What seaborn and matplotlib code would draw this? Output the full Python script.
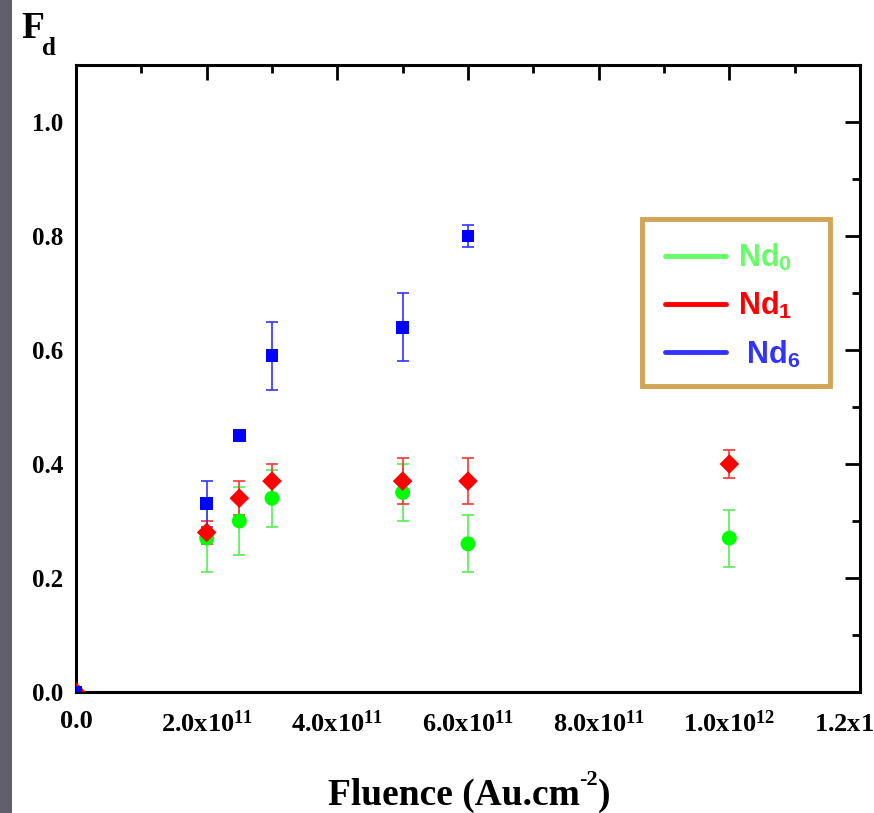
import numpy as np
import pandas as pd
import matplotlib
matplotlib.use("Agg")
import matplotlib.pyplot as plt
import matplotlib.patches as mpatches
from matplotlib.lines import Line2D
import seaborn as sns

# ---- data ----
fluence_nd0 = [0.0, 2.0e11, 2.5e11, 3.0e11, 5.0e11, 6.0e11, 1.0e12]
fd_nd0 = [0.0, 0.27, 0.30, 0.34, 0.35, 0.26, 0.27]
err_nd0 = [0.0, 0.06, 0.06, 0.05, 0.05, 0.05, 0.05]

fluence_nd1 = [0.0, 2.0e11, 2.5e11, 3.0e11, 5.0e11, 6.0e11, 1.0e12]
fd_nd1 = [0.0, 0.28, 0.34, 0.37, 0.37, 0.37, 0.40]
err_nd1 = [0.0, 0.02, 0.03, 0.03, 0.04, 0.04, 0.025]

fluence_nd6 = [0.0, 2.0e11, 2.5e11, 3.0e11, 5.0e11, 6.0e11]
fd_nd6 = [0.0, 0.33, 0.45, 0.59, 0.64, 0.80]
err_nd6 = [0.0, 0.04, 0.005, 0.06, 0.06, 0.02]

series_names = ["Nd0", "Nd1", "Nd6"]
legend_labels = [r"Nd$_\mathregular{0}$", r"Nd$_\mathregular{1}$", r" Nd$_\mathregular{6}$"]
x_ticks = [0.0, 2e11, 4e11, 6e11, 8e11, 1e12, 1.2e12]
x_tick_labels = ["0.0", r"2.0x10$^{11}$", r"4.0x10$^{11}$", r"6.0x10$^{11}$",
                 r"8.0x10$^{11}$", r"1.0x10$^{12}$", r"1.2x10$^{12}$"]
y_ticks = [0.0, 0.2, 0.4, 0.6, 0.8, 1.0]
y_tick_labels = ["0.0", "0.2", "0.4", "0.6", "0.8", "1.0"]
xlabel_parts = ["Fluence (Au.cm", "-2", ")"]

df = pd.concat([
    pd.DataFrame({"fluence": fluence_nd0, "fd": fd_nd0, "err": err_nd0, "series": "Nd0"}),
    pd.DataFrame({"fluence": fluence_nd1, "fd": fd_nd1, "err": err_nd1, "series": "Nd1"}),
    pd.DataFrame({"fluence": fluence_nd6, "fd": fd_nd6, "err": err_nd6, "series": "Nd6"}),
], ignore_index=True)

marker_colors = {"Nd0": "#00ff00", "Nd1": "#ff0000", "Nd6": "#0000ff"}
bar_colors = {"Nd0": "#55ee55", "Nd1": "#ff3333", "Nd6": "#3333ff"}
legend_colors = {"Nd0": "#66ff66", "Nd1": "#ff0000", "Nd6": "#3333ff"}
markers = {"Nd0": "o", "Nd1": "D", "Nd6": "s"}
sizes = {"Nd0": 115, "Nd1": 100, "Nd6": 85}

sns.set_style("white")
plt.rcParams["font.family"] = ["Liberation Serif", "DejaVu Serif"]
plt.rcParams["text.color"] = "black"
plt.rcParams["xtick.color"] = "black"
plt.rcParams["ytick.color"] = "black"
plt.rcParams["axes.labelcolor"] = "black"
plt.rcParams["mathtext.fontset"] = "custom"
plt.rcParams["mathtext.rm"] = "Liberation Serif:bold"
plt.rcParams["mathtext.it"] = "Liberation Serif:bold"
plt.rcParams["mathtext.bf"] = "Liberation Serif:bold"

W, H = 874, 813
fig = plt.figure(figsize=(W/100, H/100), dpi=100)
ax = fig.add_axes([76/W, 1-692/H, (860-76)/W, (692-65)/H])

# gray strip on the left edge
fig.patches.append(mpatches.Rectangle((0, 0), 12/W, 1, transform=fig.transFigure,
                                      facecolor="#5f5e6a", edgecolor="none", zorder=0))

for name in series_names:
    sub = df[df["series"] == name]
    ax.errorbar(sub["fluence"], sub["fd"], yerr=sub["err"], fmt="none",
                ecolor=bar_colors[name], elinewidth=1.2, capsize=4.5, capthick=1.2, zorder=2)

for name in series_names:
    sub = df[df["series"] == name]
    sns.scatterplot(data=sub, x="fluence", y="fd", ax=ax, color=marker_colors[name],
                    marker=markers[name], s=sizes[name], edgecolor="none",
                    linewidth=0, zorder=3, legend=False)

ax.set_xlim(0, 1.2e12)
ax.set_ylim(0, 1.1)
ax.set_xticks(x_ticks)
ax.set_xticklabels(x_tick_labels, fontsize=19, fontweight="bold")
ax.set_yticks(y_ticks)
ax.set_yticklabels(y_tick_labels, fontsize=18, fontweight="bold")
ax.set_xticks(np.arange(1e11, 1.2e12, 2e11), minor=True)
ax.set_yticks(np.arange(0.1, 1.1, 0.2), minor=True)
ax.tick_params(which="major", direction="in", length=11, width=2, top=True, right=True)
ax.tick_params(which="minor", direction="in", length=6, width=2, top=True, right=True)
ax.tick_params(axis="x", which="major", pad=13)
ax.tick_params(axis="y", which="major", pad=9)
for sp in ax.spines.values():
    sp.set_linewidth(2.2)
    sp.set_color("black")
ax.set_xlabel("")
ax.set_ylabel("")

# x label built from parts (main text, superscript, closing parenthesis)
renderer = fig.canvas.get_renderer()
base_y = 1 - 805/H
main_size, sup_size = 27, 16
probe = [fig.text(0, 0, xlabel_parts[0], fontsize=main_size, fontweight="bold"),
         fig.text(0, 0, xlabel_parts[1], fontsize=sup_size, fontweight="bold"),
         fig.text(0, 0, xlabel_parts[2], fontsize=main_size, fontweight="bold")]
widths = [p.get_window_extent(renderer).width for p in probe]
for p in probe:
    p.remove()
total = sum(widths)
x0 = 469 - total / 2
fig.text(x0/W, base_y, xlabel_parts[0], ha="left", va="baseline",
         fontsize=main_size, fontweight="bold")
fig.text((x0 + widths[0])/W, base_y + 20/H, xlabel_parts[1], ha="left", va="baseline",
         fontsize=sup_size, fontweight="bold")
fig.text((x0 + widths[0] + widths[1])/W, base_y, xlabel_parts[2], ha="left", va="baseline",
         fontsize=main_size, fontweight="bold")

fig.text(21/W, 1-38/H, "F", ha="left", va="baseline", fontsize=27, fontweight="bold")
fig.text(42/W, 1-55/H, "d", ha="left", va="baseline", fontsize=18, fontweight="bold")

# legend frame
fig.patches.append(mpatches.Rectangle((642/W, 1-386/H), (830-642)/W, (386-219)/H,
                                      transform=fig.transFigure, facecolor="white",
                                      edgecolor="#d1a456", linewidth=3.5, zorder=5))
handles = [Line2D([0], [0], color=legend_colors[n], lw=3.5) for n in series_names]
leg = fig.legend(handles, legend_labels, loc="center left",
                 bbox_to_anchor=(665/W, 1-306/H),
                 frameon=False, borderpad=0, borderaxespad=0, labelspacing=0.55,
                 handlelength=2.0, handletextpad=0.4,
                 prop={"family": "Liberation Sans", "weight": "bold", "size": 22})
leg.set_zorder(6)
for txt, n in zip(leg.get_texts(), series_names):
    txt.set_color(legend_colors[n])

fig.savefig("out.png", dpi=100)
